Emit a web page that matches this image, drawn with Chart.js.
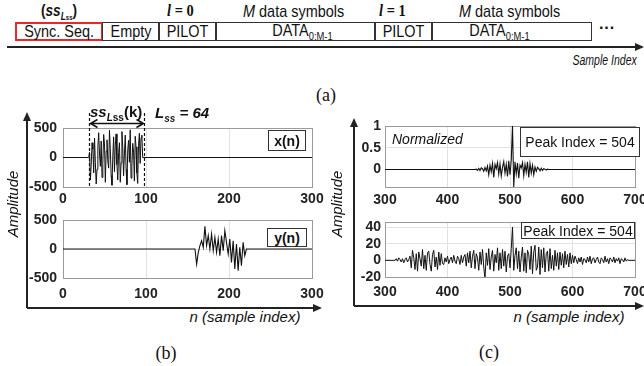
<!DOCTYPE html>
<html>
<head>
<meta charset="utf-8">
<script src="https://cdn.jsdelivr.net/npm/chart.js@4.4.1/dist/chart.umd.min.js"></script>
<style>
  html, body { margin: 0; padding: 0; width: 644px; height: 366px; overflow: hidden; background: #fff; }
  #fig { position: relative; width: 644px; height: 366px; overflow: hidden;
         font-family: "Liberation Sans", Arial, sans-serif; color: #111; }
  canvas { position: absolute; }
  .t { position: absolute; white-space: nowrap; }
  .sq { transform: scaleX(0.85); transform-origin: 0 50%; }
  .blk { position: absolute; top: 22px; height: 19px; box-sizing: border-box; border: 1.5px solid #333;
         display: flex; align-items: center; justify-content: center; font-size: 17px; }
  .blk > span { display: inline-block; transform: scaleX(0.85); }
  .math { font-family: "Liberation Serif", "Times New Roman", serif; font-weight: bold; font-size: 17px; }
  .cap { position: absolute; width: 40px; height: 22px; line-height: 22px; text-align: center;
         font-family: "Liberation Serif", "Times New Roman", serif; font-size: 18px; }
  .lgd { position: absolute; box-sizing: border-box; border: 1px solid #333; background: #fff;
         display: flex; align-items: center; justify-content: center; font-size: 14px; }
  .ax { position: absolute; height: 18px; line-height: 18px; text-align: center; white-space: nowrap;
        font-style: italic; font-size: 15px; }
  .vert { width: 90px; transform: rotate(-90deg); }
</style>
</head>
<body>
<div id="fig">

<!-- (a) frame structure -->
<div class="t sq" style="left:41px; top:2px; font-weight:bold; font-size:16px;">(<i>ss</i><span style="font-size:10px; position:relative; top:4px;"><i>L</i><span style="font-size:7px;">ss</span></span>)</div>
<div class="t math sq" style="left:167px; top:1px;"><i>l</i> = 0</div>
<div class="t sq" style="left:243px; top:2px; font-size:17px;"><i>M</i> data symbols</div>
<div class="t math sq" style="left:379px; top:1px;"><i>l</i> = 1</div>
<div class="t sq" style="left:459px; top:2px; font-size:17px;"><i>M</i> data symbols</div>

<div class="blk" style="left:15px; width:88px; border:2px solid #e8262b;"><span>Sync. Seq.</span></div>
<div class="blk" style="left:102px; width:58px;"><span>Empty</span></div>
<div class="blk" style="left:158px; width:59px;"><span>PILOT</span></div>
<div class="blk" style="left:215px; width:161px;"><span style="margin-left:14px">DATA<sub style="font-size:11px">0:M-1</sub></span></div>
<div class="blk" style="left:374px; width:59px;"><span>PILOT</span></div>
<div class="blk" style="left:431px; width:161px;"><span style="margin-right:24px">DATA<sub style="font-size:11px">0:M-1</sub></span></div>
<div class="t" style="left:599px; top:19px; font-size:16px; font-weight:bold;">···</div>
<div class="t" style="right:7px; top:51px; font-size:15px; font-style:italic; transform:scaleX(0.7); transform-origin:100% 50%;">Sample Index</div>
<div class="cap" style="left:306px; top:84px;">(a)</div>

<svg class="t" style="left:0; top:0;" width="644" height="366">
  <g stroke="#222" stroke-width="2" fill="#222">
    <line x1="7" y1="47" x2="637" y2="47"/>
    <polygon points="644,47 635,43 635,51" stroke="none"/>
    <line x1="27" y1="308" x2="27" y2="120"/>
    <polygon points="27,112 23,121 31,121" stroke="none"/>
    <line x1="27" y1="308" x2="314" y2="308"/>
    <polygon points="322,308 313,304 313,312" stroke="none"/>
    <line x1="354" y1="306" x2="354" y2="126"/>
    <polygon points="354,118 350,127 358,127" stroke="none"/>
    <line x1="354" y1="306" x2="636" y2="306"/>
    <polygon points="644,306 635,302 635,310" stroke="none"/>
  </g>
</svg>

<!-- (b) -->
<canvas id="bx" width="308" height="101" style="left:18px; top:108px;"></canvas>
<canvas id="by" width="308" height="88" style="left:18px; top:212px;"></canvas>
<div class="t" style="left:90px; top:103px; font-weight:bold; font-size:15px;"><i>ss</i><sub style="font-size:10px"><i>L</i>ss</sub>(k)</div>
<div class="t" style="left:155px; top:104px; font-weight:bold; font-style:italic; font-size:15px;">L<sub style="font-size:10px">ss</sub> = 64</div>
<div class="lgd" style="left:268px; top:130px; width:38px; height:21px; font-weight:bold; font-size:14px;">x(n)</div>
<div class="lgd" style="left:267px; top:228px; width:40px; height:19px; font-weight:bold; font-size:14px;">y(n)</div>
<div class="ax vert" style="left:-32px; top:195px;">Amplitude</div>
<div class="ax" style="left:175px; width:140px; top:308px;">n (sample index)</div>
<div class="cap" style="left:146px; top:342px;">(b)</div>

<!-- (c) -->
<canvas id="cn" width="299" height="89" style="left:345px; top:120px;"></canvas>
<canvas id="cr" width="299" height="83" style="left:345px; top:216px;"></canvas>
<div class="t" style="left:392px; top:131px; font-style:italic; font-size:14px;">Normalized</div>
<div class="lgd" style="left:520px; top:127px; width:120px; height:30px;">Peak Index = 504</div>
<div class="lgd" style="left:521px; top:222px; width:114px; height:17px;">Peak Index = 504</div>
<div class="ax vert" style="left:292px; top:195px;">Amplitude</div>
<div class="ax" style="left:499px; width:140px; top:308px;">n (sample index)</div>
<div class="cap" style="left:469px; top:341px;">(c)</div>

</div>
<script>
// tick values
const xTicksB = [0, 100, 200, 300];
const yTicksB = [-500, 0, 500];
const xTicksC = [300, 400, 500, 600, 700];
const yTicksNorm = [0, 0.5, 1];
const yTicksRaw = [-20, 0, 20, 40];

// transmitted sync sequence x(n), 64 samples starting at n = 32
const syncStart = 32;
const syncBounds = [31, 97];
const xSync = [90, -380, -120, 250, 140, -260, 330, -90,
               -450, -200, 180, 420, 60, -150, 280, -340,
               -100, 390, 230, -420, 110, 300, -60, -180,
               460, 150, -300, -470, 20, 350, -240, 200,
               400, -120, -380, 80, 250, -420, -90, 440,
               170, -310, 60, 380, -200, -460, 130, 290,
               -80, 470, -350, -150, 240, 90, -400, 360,
               180, -260, -440, 200, 410, -100, 330, 380];

// received y(n), read every 2 samples from n = 159
const rxStart = 159;
const rxStep = 2;
const yRx = [0, -259, -59, 57, 143, 29, 390, 57, 230, 0, 258, -29, 200, -58, 172, -115,
             230, -29, 316, 115, -86, 172, -230, 143, -345, 86, -373, 29, -287, 115, -115, 0];

// normalized cross-correlation, every 2 samples from n = 444
const normStart = 444;
const normStep = 2;
const corrNorm = [0, 0.01, -0.02, 0.03, -0.02, 0.04, 0.02, -0.04, 0.05, -0.03,
                  0.08, -0.12, 0.10, -0.05, 0.14, -0.18, 0.12, 0.02, 0.16, -0.10,
                  0.13, -0.15, 0.05, 0.18, -0.08, 0.12, -0.16, 0.20, -0.12, 0.22,
                  1.00, -0.40, 0.18, -0.10, 0.15, -0.20, 0.10, 0.04, 0.16, -0.14,
                  0.12, -0.06, 0.18, -0.18, 0.14, -0.08, 0.10, -0.12, 0.06, -0.04,
                  0.05, 0.02, -0.03, 0.03, -0.02, 0.02, 0.01, -0.01, 0.01, 0];

// raw cross-correlation, every 2 samples from n = 316 (peak at 504)
const rawStart = 316;
const rawStep = 2;
const corrRaw = [0, 2, -1, 3, 1, -2, 2, -3, 1, 3, -2, 1,
                 5, -9, 12, 3, -11, 8, -13, 10, 2, -7, 13, -10, 6, -12, 9, 11, -5, -13, 7, 12, -8, 4, -11, 10, -6, 8, -4,
                 -5, 3, -2, 5, -4, 1, 4, -3, 6, -1, -4, 5, 2, -5, 6, -3, 4, 7,
                 -7, 9, -3, 11, -9, 5, 12, -10, 8, 3, -12, 10, -5, 13, -8,
                 -22,
                 9, -6, 14, -11, 4, 12, -13, 7, -3, 15, -12, 9, -10, 13, -7, 11, -14, 5, 8, -9, 14,
                 40,
                 -12, 6, 15, -10, 11, -14, 4, 16, -13, 9, -15, 12, 7, -11, 17, -16, 10, 18, -12, -8, 16, -17, 13, -9,
                 15, -14, 8, 11, -13, 14, -10, 6, -12, 12, -7, 9, -11, 10, -6, 8, -9, 11, -5, 7, -8, 9, -4, 6,
                 -3, 5, 1, -4, 3, -2, 4, -5, 2, 1, -3, 4, -2, 5, -4, 2, 3, -3, 1, 4, -2, -4, 3,
                 1, -3, 5, -2, 2, -4, 3, 1, -2, 4, -3, 2, -1, 3, -4, 2, 1, -2, 3, -1, 1, 0];

function toPoints(start, step, vals, xMin, xMax) {
    const pts = [{x: xMin, y: 0}, {x: start - step, y: 0}];
    vals.forEach((v, i) => pts.push({x: start + i * step, y: v}));
    pts.push({x: start + vals.length * step, y: 0});
    pts.push({x: xMax, y: 0});
    return pts;
}

const tickFont = {family: '"Liberation Sans", Arial, sans-serif', size: 14, weight: 'bold'};

const frame = {
    id: 'frame',
    beforeDatasetsDraw(chart) {
        const a = chart.chartArea, ctx = chart.ctx;
        ctx.save();
        ctx.strokeStyle = '#9a9a9a';
        ctx.lineWidth = 1;
        ctx.strokeRect(Math.round(a.left) + 0.5, Math.round(a.top) + 0.5,
                       Math.round(a.right - a.left), Math.round(a.bottom - a.top));
        ctx.restore();
    }
};

const syncMarker = {
    id: 'syncMarker',
    afterDatasetsDraw(chart) {
        const {ctx, chartArea} = chart;
        const sx = chart.scales.x;
        const x1 = Math.round(sx.getPixelForValue(syncBounds[0])) + 0.5;
        const x2 = Math.round(sx.getPixelForValue(syncBounds[1])) + 0.5;
        const ay = chartArea.top - 4.5;
        ctx.save();
        ctx.strokeStyle = '#111';
        ctx.lineWidth = 1.2;
        ctx.setLineDash([3, 2]);
        [x1, x2].forEach(px => {
            ctx.beginPath();
            ctx.moveTo(px, chartArea.top - 15);
            ctx.lineTo(px, chartArea.bottom);
            ctx.stroke();
        });
        ctx.setLineDash([]);
        ctx.lineWidth = 1.5;
        ctx.beginPath();
        ctx.moveTo(x1 + 1, ay); ctx.lineTo(x2 - 1, ay);
        ctx.moveTo(x1 + 8, ay - 4); ctx.lineTo(x1 + 1, ay); ctx.lineTo(x1 + 8, ay + 4);
        ctx.moveTo(x2 - 8, ay - 4); ctx.lineTo(x2 - 1, ay); ctx.lineTo(x2 - 8, ay + 4);
        ctx.stroke();
        ctx.restore();
    }
};

function makePlot(id, points, xr, yr, xTicks, yTicks, lay, extra) {
    return new Chart(document.getElementById(id), {
        type: 'line',
        data: {
            datasets: [{
                data: points,
                borderColor: '#111',
                borderWidth: lay.lw || 1.1,
                pointRadius: 0,
                tension: 0
            }]
        },
        options: {
            responsive: false,
            maintainAspectRatio: false,
            animation: false,
            layout: {padding: {left: 0, top: lay.top, right: lay.right, bottom: 0}},
            plugins: {legend: {display: false}, tooltip: {enabled: false}},
            scales: {
                x: {
                    type: 'linear', min: xr[0], max: xr[1],
                    afterBuildTicks: s => { s.ticks = xTicks.map(v => ({value: v})); },
                    afterFit: s => { s.height = 22; s.paddingLeft = 0; s.paddingRight = 0; },
                    ticks: {font: tickFont, color: '#222', padding: lay.xpad, maxRotation: 0, autoSkip: false,
                            callback: v => String(v)},
                    grid: {color: '#e2e2e2', drawTicks: false},
                    border: {display: false}
                },
                y: {
                    min: yr[0], max: yr[1],
                    afterBuildTicks: s => { s.ticks = yTicks.map(v => ({value: v})); },
                    afterFit: s => { s.width = lay.yw; s.paddingTop = 0; s.paddingBottom = 0; },
                    ticks: {font: tickFont, color: '#222', padding: lay.ypad, autoSkip: false,
                            callback: v => String(v)},
                    grid: {color: '#e2e2e2', drawTicks: false},
                    border: {display: false}
                }
            }
        },
        plugins: [frame].concat(extra || [])
    });
}

makePlot('bx', toPoints(syncStart, 1, xSync, 0, 300), [0, 300], [-500, 500], xTicksB, yTicksB,
         {top: 20, right: 14, yw: 45, xpad: 4, ypad: 6, lw: 1}, [syncMarker]);
makePlot('by', toPoints(rxStart, rxStep, yRx, 0, 300), [0, 300], [-500, 500], xTicksB, yTicksB,
         {top: 8, right: 14, yw: 45, xpad: 8, ypad: 6});
makePlot('cn', toPoints(normStart, normStep, corrNorm, 300, 700), [300, 700], [-0.4, 1], xTicksC, yTicksNorm,
         {top: 6, right: 9, yw: 40, xpad: 5, ypad: 4});
makePlot('cr', toPoints(rawStart, rawStep, corrRaw, 300, 700), [300, 700], [-20, 46], xTicksC, yTicksRaw,
         {top: 6, right: 9, yw: 40, xpad: 7, ypad: 4, lw: 1});
</script>
</body>
</html>
